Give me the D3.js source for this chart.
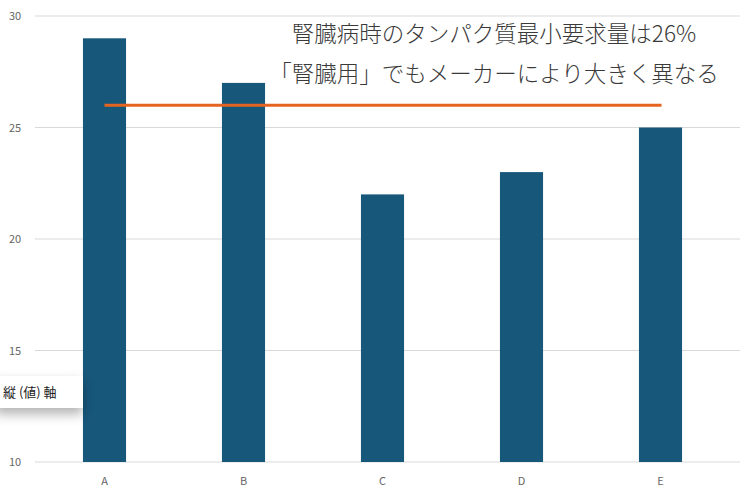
<!DOCTYPE html><html><head><meta charset="utf-8"><script src="https://cdn.jsdelivr.net/npm/d3@7"></script>
<style>body{margin:0;background:#fff}</style></head><body><svg id="c" width="751" height="493"></svg>
<script>
const categories=["A","B","C","D","E"];
const values=[29,27,22,23,25];
const yTicks=[10,15,20,25,30];
const targetValue=26;
const titleLines=["腎臓病時のタンパク質最小要求量は26%","「腎臓用」でもメーカーにより大きく異なる"];
const svg=d3.select("#c");
const x=d3.scaleBand().domain(categories).range([35,730]).paddingInner(0.69).paddingOuter(0.345);
const y=d3.scaleLinear().domain([10,30]).range([462,16]);
const font="'Noto Sans CJK JP','Noto Sans',sans-serif";
svg.append("g").selectAll("line").data(yTicks).join("line")
 .attr("x1",35).attr("x2",740).attr("y1",d=>y(d)).attr("y2",d=>y(d)).attr("stroke","#d9d9d9");
svg.append("g").selectAll("text").data(yTicks).join("text")
 .attr("x",9).attr("y",d=>y(d)+4).text(d=>d).attr("font-size",11).attr("fill","#666").attr("font-family",font);
svg.append("g").selectAll("rect").data(values).join("rect")
 .attr("x",(d,i)=>x(categories[i])).attr("width",x.bandwidth())
 .attr("y",d=>y(d)).attr("height",d=>y(10)-y(d)).attr("fill","#17577a");
svg.append("g").selectAll("text").data(categories).join("text")
 .attr("x",d=>x(d)+x.bandwidth()/2).attr("y",485).attr("text-anchor","middle")
 .text(d=>d).attr("font-size",11).attr("fill","#666").attr("font-family",font);
svg.append("line").attr("x1",x("A")+x.bandwidth()/2).attr("x2",x("E")+x.bandwidth()/2+1)
 .attr("y1",y(targetValue)).attr("y2",y(targetValue)).attr("stroke","#e5641f").attr("stroke-width",3);
titleLines.forEach((t,i)=>svg.append("text").attr("x",494).attr("y",42+i*40).attr("text-anchor","middle")
 .attr("font-size",22.5).attr("font-weight",300).attr("fill","#3a3a3a").attr("font-family",font).text(t));
const defs=svg.append("defs");
const f=defs.append("filter").attr("id","sh").attr("x","-20%").attr("y","-20%").attr("width","150%").attr("height","200%");
f.append("feDropShadow").attr("dx",0).attr("dy",6).attr("stdDeviation",6).attr("flood-opacity",0.3);
svg.append("rect").attr("x",-5).attr("y",376).attr("width",88).attr("height",32).attr("fill","#fff").attr("filter","url(#sh)");
svg.append("text").attr("x",3).attr("y",397).attr("font-size",13).attr("fill","#222").attr("font-family",font).text("縦 (値) 軸");
</script></body></html>
